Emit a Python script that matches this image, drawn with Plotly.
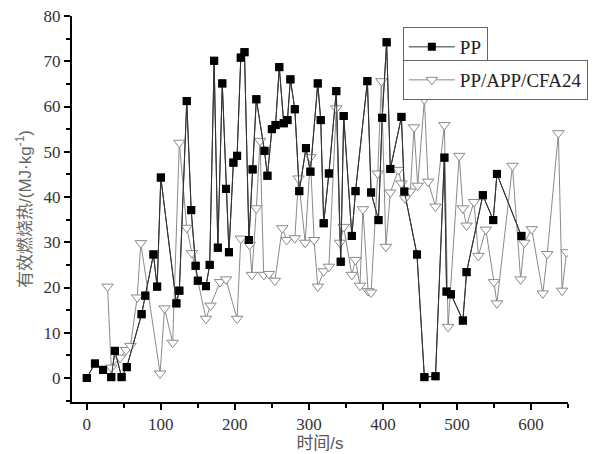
import plotly.graph_objects as go

# PP series
pp_t = [0, 11, 22, 33, 38, 47, 54, 74, 79, 90, 95, 100, 121, 125, 135, 141, 147, 150, 161, 166,
        172, 177, 183, 188, 192, 198, 203, 208, 213, 219, 224, 229, 240, 244, 250, 255, 260, 266,
        271, 275, 281, 287, 296, 302, 312, 316, 320, 327, 337, 343, 347, 358, 363, 379, 384, 394,
        399, 405, 410, 425, 429, 446, 456, 471, 483, 486, 492, 508, 513, 535, 549, 554, 587]
pp_v = [0, 3.2, 1.8, 0.2, 6.0, 0.2, 2.4, 14.1, 18.2, 27.3, 20.2, 44.3, 16.5, 19.3, 61.2, 37.1, 24.8,
        21.5, 20.3, 25, 70.1, 28.8, 65.1, 41.8, 27.8, 47.6, 49.1, 70.8, 72, 30.5, 46.1, 61.6, 50.2,
        44.7, 55, 55.9, 68.7, 56.3, 57, 66, 59.4, 41.3, 50.8, 45.6, 65.1, 57, 34.2, 45.2, 63.4, 25.7,
        57.9, 31.4, 41.3, 65.6, 41, 34.9, 57.5, 74.2, 46.2, 57.7, 41.2, 27.3, 0.2, 0.4, 48.7, 19.1,
        18.5, 12.7, 23.4, 40.4, 34.9, 45.1, 31.4]

# PP/APP/CFA24 series
cfa_t = [28, 33, 45, 53, 59, 68, 73, 99, 105, 116, 125, 135, 142, 161, 167, 180, 188, 203, 208, 220,
         223, 229, 234, 239, 246, 254, 264, 270, 281, 286, 295, 302, 307, 312, 320, 327, 337, 342,
         347, 358, 363, 369, 373, 380, 384, 393, 398, 404, 410, 421, 425, 430, 437, 442, 447, 456,
         461, 471, 483, 488, 503, 508, 513, 523, 529, 539, 550, 554, 575, 586, 591, 601, 616, 622,
         637, 642, 648, 670]
cfa_v = [20.2, 2.3, 4.5, 6.2, 7.1, 17.8, 29.8, 1.0, 15.4, 7.8, 52.0, 33.2, 27.6, 13.1, 16.0, 21.2,
         21.8, 13.1, 30.8, 29.4, 22.8, 37.5, 52.4, 22.8, 23.0, 21.5, 33.1, 30.5, 30.9, 44.1, 29.9,
         48.8, 30.5, 20.2, 23.6, 24.6, 59.6, 29.9, 33.4, 22.8, 26.1, 20.4, 37.3, 19.2, 18.9, 45.2,
         65.6, 29.0, 41.0, 46.0, 43.0, 39.7, 41.2, 55.4, 42.5, 61.6, 43.4, 37.9, 55.9, 11.3, 49.1,
         37.5, 33.7, 38.9, 27.0, 32.8, 21.2, 16.5, 46.9, 21.8, 29.9, 32.9, 18.7, 27.4, 54.1, 19.3,
         27.8, 30.9]

x_ticks = [0, 100, 200, 300, 400, 500, 600]
y_ticks = [0, 10, 20, 30, 40, 50, 60, 70, 80]

serif = "Liberation Serif, Times New Roman, serif"
cjk = "Liberation Sans, Noto Sans CJK SC, sans-serif"

fig = go.Figure()
fig.add_trace(go.Scatter(
    x=pp_t, y=pp_v, mode="lines+markers", name="PP",
    line=dict(color="#333333", width=1),
    marker=dict(symbol="square", size=8, color="black", line=dict(color="black", width=0)),
))
fig.add_trace(go.Scatter(
    x=cfa_t, y=cfa_v, mode="lines+markers", name="PP/APP/CFA24", legend="legend2",
    line=dict(color="#8a8a8a", width=1),
    marker=dict(symbol="triangle-down", size=10, color="white",
                line=dict(color="#8a8a8a", width=1)),
))
# redraw PP on top of the grey series (no legend entry)
fig.add_trace(go.Scatter(
    x=pp_t, y=pp_v, mode="lines+markers", name="PP", showlegend=False,
    line=dict(color="#333333", width=1),
    marker=dict(symbol="square", size=8, color="black", line=dict(color="black", width=0)),
))

fig.update_layout(
    width=600, height=454,
    margin=dict(l=72, r=32, t=16, b=52, autoexpand=False),
    paper_bgcolor="white", plot_bgcolor="white",
    font=dict(family=serif, size=17, color="#222"),
    legend=dict(x=0.667, y=0.9715, xanchor="left", yanchor="top",
                bordercolor="#666", borderwidth=1, bgcolor="white",
                font=dict(family=serif, size=19, color="#222"), itemwidth=46),
    legend2=dict(x=0.667, y=0.886, xanchor="left", yanchor="top",
                 bordercolor="#666", borderwidth=1, bgcolor="white",
                 font=dict(family=serif, size=19, color="#222"), itemwidth=46),
    xaxis=dict(range=[-20, 650], tickvals=x_ticks, ticktext=[str(v) for v in x_ticks],
               automargin=False,
               showgrid=False, zeroline=False, showline=True, linecolor="black", linewidth=2,
               ticks="outside", ticklen=6, tickwidth=2, tickcolor="black",
               minor=dict(dtick=50, tick0=0, ticks="outside", ticklen=4, tickwidth=2, tickcolor="black"),
               tickfont=dict(family=serif, size=17, color="#333"),
               title=dict(text="时间/s", font=dict(family=cjk, size=17, color="#555"), standoff=4)),
    yaxis=dict(range=[-5.3, 80], tickvals=y_ticks, ticktext=[str(v) for v in y_ticks],
               automargin=False,
               showgrid=False, zeroline=False, showline=True, linecolor="black", linewidth=2,
               ticks="outside", ticklen=6, tickwidth=2, tickcolor="black",
               minor=dict(dtick=5, tick0=0, ticks="outside", ticklen=4, tickwidth=2, tickcolor="black"),
               tickfont=dict(family=serif, size=17, color="#333"),
               title=dict(text="有效燃烧热/(MJ·kg<sup>-1</sup>)", font=dict(family=cjk, size=17, color="#666"),
                          standoff=8)),
)

fig.write_html("out.html", config={"displayModeBar": False},
               post_script="document.body.style.margin='0';")
